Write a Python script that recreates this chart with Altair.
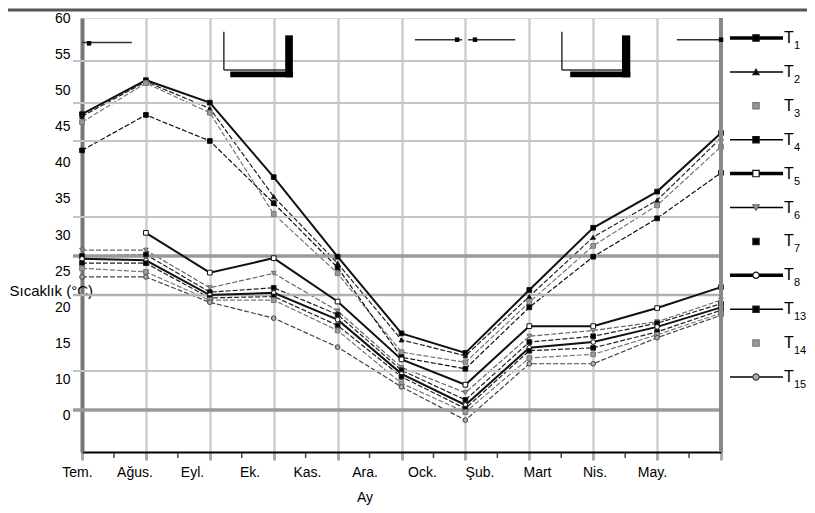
import altair as alt
import pandas as pd

# ---------------- data ----------------
months = ["Tem.", "Ağus.", "Eyl.", "Ek.", "Kas.", "Ara.", "Ock.", "Şub.", "Mart", "Nis.", "May."]
series = ["T1", "T2", "T3", "T4", "T5", "T6", "T7", "T8", "T13", "T14", "T15"]
subs = ["1", "2", "3", "4", "5", "6", "7", "8", "13", "14", "15"]

t1 = [46.7, 51.4, 48.3, 38.0, 27.0, 16.4, 13.7, 22.4, 31.0, 36.0, 44.1]
t2 = [46.4, 51.2, 47.5, 35.3, 26.1, 15.5, 13.3, 21.5, 29.7, 34.8, 43.4]
t3 = [45.6, 51.0, 46.9, 32.9, 24.7, 13.8, 12.4, 20.7, 28.5, 34.1, 42.2]
t4 = [41.7, 46.6, 43.0, 34.4, 25.5, 13.1, 11.5, 20.0, 27.0, 32.3, 38.6]
t5 = [None, 30.3, 24.8, 26.8, 20.8, 12.8, 9.3, 17.4, 17.4, 19.9, 22.8]
t6 = [27.9, 27.9, 22.7, 24.7, 19.5, 11.7, 8.2, 16.0, 16.8, 18.0, 21.0]
t7 = [27.1, 27.3, 22.1, 22.7, 19.0, 11.3, 7.2, 15.2, 16.0, 17.8, 20.5]
t8 = [26.7, 26.5, 21.7, 22.0, 18.3, 10.8, 6.5, 14.4, 15.2, 17.3, 20.0]
t13 = [26.1, 26.1, 21.3, 21.5, 17.5, 10.4, 6.0, 14.0, 14.4, 16.6, 19.6]
t14 = [25.4, 24.9, 21.0, 21.0, 16.8, 9.5, 5.5, 13.0, 13.5, 16.2, 19.2]
t15 = [24.2, 24.2, 20.7, 18.5, 14.5, 9.0, 4.4, 12.2, 12.2, 15.8, 18.9]
all_values = [t1, t2, t3, t4, t5, t6, t7, t8, t13, t14, t15]

y_ticks = [60, 55, 50, 45, 40, 35, 30, 25, 20, 15, 10, 5]
grid_light = [54.05, 48.25, 43.0, 32.5, 11.2]
grid_mid = [21.7]
grid_heavy = [27.1, 5.8]
border_idx = [10]
minor_ticks = [0.5, 1.5, 2.5, 3.5, 4.5, 5.5, 6.5, 7.5, 8.5, 9.5]

# scanned artefacts along the top of the plot (value units)
deco_thin_x = [0.0, 5.21, 6.04, 9.31, 2.22, 2.22, 7.51, 7.51]
deco_thin_x2 = [0.78, 5.95, 6.78, 10.0, 2.22, 3.18, 7.51, 8.45]
deco_thin_y = [56.6, 57.0, 57.0, 57.0, 58.1, 52.8, 58.1, 52.8]
deco_thin_y2 = [56.6, 57.0, 57.0, 57.0, 52.8, 52.8, 52.8, 52.8]
deco_box_x = [3.18, 2.32, 8.45, 7.64]
deco_box_x2 = [3.30, 3.30, 8.58, 8.58]
deco_box_y = [57.6, 52.6, 57.6, 52.6]
deco_box_y2 = [51.8, 51.8, 51.8, 51.8]
deco_pt_x = [0.11, 5.87, 6.15, 10.0]
deco_pt_y = [56.5, 57.0, 57.0, 57.0]

# ---------------- styles ----------------
thick = ["T1", "T5", "T8"]
thin = ["T2", "T3", "T4", "T6", "T7", "T13", "T14", "T15"]
legend_thin = ["T2", "T4", "T6", "T13", "T15"]
shapes = ["square", "triangle-up", "square", "square", "square", "triangle-down",
          "square", "circle", "square", "square", "circle"]
fills = ["#000", "#000", "#999", "#000", "#fff", "#999", "#000", "#fff", "#000", "#999", "#aaa"]
outlines = ["#000", "#000", "#999", "#000", "#000", "#888", "#000", "#000", "#000", "#999", "#555"]
line_colors = ["#111", "#222", "#777", "#111", "#111", "#666", "#222", "#111", "#222", "#777", "#444"]
FONT = "Liberation Sans"

rows = []
for s, vals in zip(series, all_values):
    for i, v in enumerate(vals):
        if v is not None:
            rows.append({"series": s, "idx": i, "temp": v})
df = pd.DataFrame(rows)

X = alt.Scale(domain=[0, 10], nice=False, zero=False)
Y = alt.Scale(domain=[0, 60], nice=False, zero=False)
shape_enc = alt.Shape("series:N", scale=alt.Scale(domain=series, range=shapes), legend=None)
fill_enc = alt.Fill("series:N", scale=alt.Scale(domain=series, range=fills), legend=None)
line_stroke = alt.Stroke("series:N", scale=alt.Scale(domain=series, range=line_colors), legend=None)
pt_stroke = alt.Stroke("series:N", scale=alt.Scale(domain=series, range=outlines), legend=None)

x_axis = alt.Axis(values=list(range(11)), labels=False, title=None, grid=True,
                  gridColor="#cfcfcf", gridWidth=2.5, ticks=True, tickSize=8,
                  tickColor="#aaa", tickWidth=3, domain=True, domainColor="#000",
                  domainWidth=2)
y_axis = alt.Axis(orient="left", values=y_ticks,
                  labelExpr="datum.value == 5 ? '0' : datum.label",
                  labelOverlap=False, labelBound=False, labelSeparation=0,
                  grid=False, ticks=False, tickSize=0, domain=True, domainColor="#777",
                  domainWidth=4, labelFontSize=14, labelPadding=12, labelFont=FONT,
                  labelColor="#000", title="Sıcaklık (°C)", titleAngle=0,
                  titleAlign="left", titleBaseline="middle", titleX=-73, titleY=272,
                  titleFontSize=15, titleFontWeight="normal", titleFont=FONT,
                  titleColor="#000")

# plot layers (y axis drawn by its own carrier layer)
lines_thin = alt.Chart(df).transform_filter(
    alt.FieldOneOfPredicate(field="series", oneOf=thin)
).mark_line(strokeWidth=1.2, strokeDash=[5, 2]).encode(
    x=alt.X("idx:Q", scale=X, axis=x_axis),
    y=alt.Y("temp:Q", scale=Y, axis=None),
    stroke=line_stroke,
    detail="series:N",
)
lines_thick = alt.Chart(df).transform_filter(
    alt.FieldOneOfPredicate(field="series", oneOf=thick)
).mark_line(strokeWidth=2.0).encode(
    x=alt.X("idx:Q", scale=X),
    y=alt.Y("temp:Q", scale=Y, axis=None),
    stroke=line_stroke,
    detail="series:N",
)
pts = alt.Chart(df).mark_point(size=22, strokeWidth=1, opacity=1).encode(
    x=alt.X("idx:Q", scale=X),
    y=alt.Y("temp:Q", scale=Y, axis=None),
    shape=shape_enc, fill=fill_enc, stroke=pt_stroke,
)


def hrules(vals, color, width):
    return alt.Chart(pd.DataFrame({"g": vals})).mark_rule(color=color, strokeWidth=width).encode(
        y=alt.Y("g:Q", scale=Y, axis=None), x=alt.value(-9), x2=alt.value(639))


g1 = hrules(grid_light, "#c4c4c4", 2)
g2 = hrules(grid_mid, "#b0b0b0", 2.5)
g3 = hrules(grid_heavy, "#9a9a9a", 3.5)
border = alt.Chart(pd.DataFrame({"b": border_idx})).mark_rule(color="#888", strokeWidth=4).encode(
    x=alt.X("b:Q", scale=X))
minor = alt.Chart(pd.DataFrame({"m": minor_ticks})).mark_rule(color="#444", strokeWidth=1.5).encode(
    x=alt.X("m:Q", scale=X), y=alt.value(435), y2=alt.value(440))

deco_thin = alt.Chart(pd.DataFrame({"x": deco_thin_x, "x2": deco_thin_x2,
                                    "y": deco_thin_y, "y2": deco_thin_y2})).mark_rule(
    color="#333", strokeWidth=1.5).encode(
    x=alt.X("x:Q", scale=X), x2="x2:Q",
    y=alt.Y("y:Q", scale=Y, axis=None), y2="y2:Q")
deco_box = alt.Chart(pd.DataFrame({"x": deco_box_x, "x2": deco_box_x2,
                                   "y": deco_box_y, "y2": deco_box_y2})).mark_rect(
    color="#000").encode(
    x=alt.X("x:Q", scale=X), x2="x2:Q",
    y=alt.Y("y:Q", scale=Y, axis=None), y2="y2:Q")
deco_pts = alt.Chart(pd.DataFrame({"x": deco_pt_x, "y": deco_pt_y})).mark_square(
    color="#000", size=20, opacity=1).encode(
    x=alt.X("x:Q", scale=X), y=alt.Y("y:Q", scale=Y, axis=None))

main = alt.layer(lines_thin, g1, g2, g3, lines_thick, pts, border, minor,
                 deco_thin, deco_box, deco_pts)

# y axis carrier (same value scale)
y_carrier = alt.Chart(pd.DataFrame({"v": y_ticks})).mark_point(opacity=0).encode(
    y=alt.Y("v:Q", scale=Y, axis=y_axis))

# month labels on their own (compressed) point scale, as in the scan
labels = alt.Chart(pd.DataFrame({"month": months})).mark_point(opacity=0).encode(
    x=alt.X("month:N", sort=months,
            scale=alt.Scale(type="point", domain=months, range=[-5, 570], padding=0),
            axis=alt.Axis(orient="bottom", title="Ay", labelAngle=0, labelFontSize=14,
                          labelFont=FONT, labelColor="#000", labelPadding=13,
                          labelOverlap=False,
                          ticks=False, domain=False, grid=False, titleFontSize=14,
                          titleFont=FONT, titleFontWeight="normal", titleColor="#000",
                          titlePadding=11)))

# legend
leg_df = pd.DataFrame({"series": series, "sub": subs, "base": ["T"] * len(series)})
ly = alt.Y("series:N", scale=alt.Scale(type="point", domain=series, range=[20, 359], padding=0),
           axis=None)
leg_thick = alt.Chart(leg_df).transform_filter(
    alt.FieldOneOfPredicate(field="series", oneOf=thick)
).mark_rule(color="#000", strokeWidth=3.5).encode(y=ly, x=alt.value(648), x2=alt.value(701))
leg_thin = alt.Chart(leg_df).transform_filter(
    alt.FieldOneOfPredicate(field="series", oneOf=legend_thin)
).mark_rule(color="#000", strokeWidth=1.5).encode(y=ly, x=alt.value(648), x2=alt.value(701))
leg_pts = alt.Chart(leg_df).mark_point(size=40, strokeWidth=1.2, opacity=1).encode(
    y=ly, x=alt.value(674), shape=shape_enc, fill=fill_enc, stroke=pt_stroke)
leg_t = alt.Chart(leg_df).mark_text(align="left", baseline="middle", fontSize=16,
                                    font=FONT, color="#000").encode(
    y=ly, x=alt.value(702), text="base:N")
leg_sub = alt.Chart(leg_df).mark_text(align="left", baseline="middle", fontSize=11,
                                      font=FONT, color="#000", dy=8).encode(
    y=ly, x=alt.value(712), text="sub:N")
legend = alt.layer(leg_thick, leg_thin, leg_pts, leg_t, leg_sub)

top_line = alt.Chart(pd.DataFrame({"a": [0]})).mark_rule(color="#555", strokeWidth=3).encode(
    x=alt.value(-74), x2=alt.value(725), y=alt.value(-8))

chart = alt.layer(main, y_carrier, labels, legend, top_line).resolve_scale(
    x="independent", y="independent"
).properties(
    width=639, height=434,
    padding={"left": 74, "top": 10, "right": 86, "bottom": 53},
    autosize=alt.AutoSizeParams(type="none"),
    background="#ffffff",
).configure_view(stroke=None).configure_axis(labelOverlap=False).configure(font=FONT)

chart.save("out.html", embed_options={"renderer": "svg", "actions": False})
